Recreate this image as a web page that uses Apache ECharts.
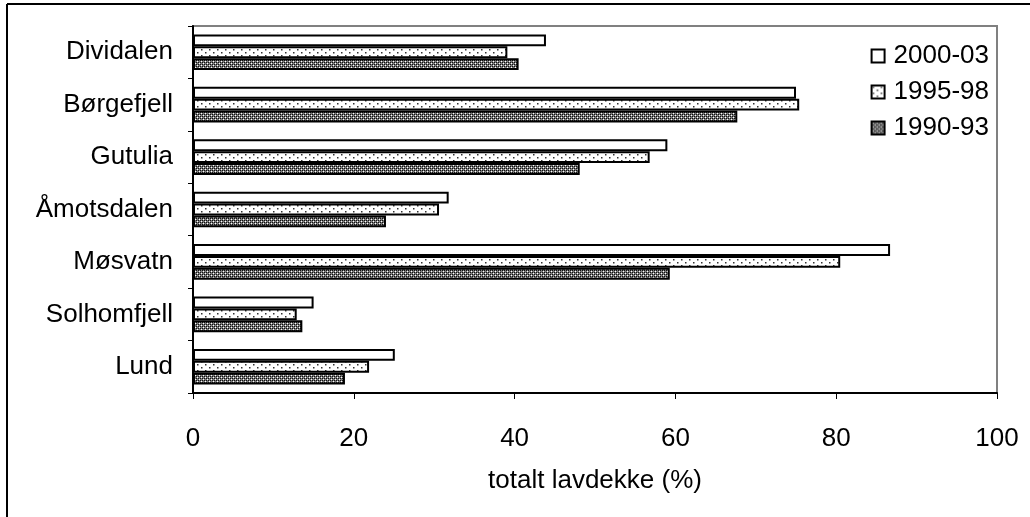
<!DOCTYPE html>
<html>
<head>
<meta charset="utf-8">
<script src="https://cdn.jsdelivr.net/npm/echarts@6/dist/echarts.min.js"></script>
<style>
  html, body { margin: 0; padding: 0; background: #fff; }
  #chart { width: 1030px; height: 517px; }
</style>
</head>
<body>
<div id="chart"></div>
<script>
const sites = ['Dividalen', 'Børgefjell', 'Gutulia', 'Åmotsdalen', 'Møsvatn', 'Solhomfjell', 'Lund'];
const periods = ['2000-03', '1995-98', '1990-93'];
const p2000 = [43.9, 75.0, 59.0, 31.8, 86.7, 15.0, 25.1];
const p1995 = [39.1, 75.4, 56.8, 30.6, 80.5, 12.9, 21.9];
const p1990 = [40.5, 67.7, 48.1, 24.0, 59.3, 13.6, 18.9];
const xTicks = [0, 20, 40, 60, 80, 100];

const font = 'Liberation Sans, Arial, sans-serif';

// sparse dots
function dotTile() {
  const c = document.createElement('canvas');
  c.width = 8; c.height = 6;
  const g = c.getContext('2d');
  g.fillStyle = '#fff';
  g.fillRect(0, 0, 8, 6);
  g.fillStyle = '#333';
  g.fillRect(1, 1, 1.5, 1.5);
  g.fillRect(5, 4, 1.5, 1.5);
  return c;
}

// dense grey texture, dark lattice with white spots
function denseTile() {
  const c = document.createElement('canvas');
  c.width = 4; c.height = 4;
  const g = c.getContext('2d');
  g.fillStyle = '#7a7a7a';
  g.fillRect(0, 0, 4, 4);
  g.fillStyle = '#111';
  g.fillRect(0, 0, 1, 1);
  g.fillRect(2, 2, 1, 1);
  g.fillRect(2, 0, 1, 1);
  g.fillRect(0, 2, 1, 1);
  g.fillStyle = '#fff';
  g.fillRect(1, 1, 1, 1);
  g.fillRect(3, 3, 1, 1);
  return c;
}

const fills = [
  '#ffffff',
  { image: dotTile(), repeat: 'repeat' },
  { image: denseTile(), repeat: 'repeat' },
];
const values = [p2000, p1995, p1990];

const chart = echarts.init(document.getElementById('chart'));
chart.setOption({
  animation: false,
  textStyle: { fontFamily: font, color: '#000' },
  graphic: [
    { type: 'line', shape: { x1: 7, y1: 4, x2: 1030, y2: 4 }, style: { stroke: '#000', lineWidth: 2 } },
    { type: 'line', shape: { x1: 7, y1: 4, x2: 7, y2: 517 }, style: { stroke: '#000', lineWidth: 2 } },
  ],
  legend: {
    data: periods,
    orient: 'vertical',
    right: 36,
    top: 38,
    itemWidth: 13,
    itemHeight: 13,
    itemGap: 10,
    icon: 'rect',
    textStyle: { fontFamily: font, fontSize: 26, color: '#000', padding: [0, 0, 0, 4] },
  },
  grid: {
    left: 193,
    top: 26,
    right: 33,
    bottom: 124,
    show: true,
    borderColor: '#808080',
    borderWidth: 2,
  },
  xAxis: {
    type: 'value',
    min: 0,
    max: 100,
    interval: 20,
    splitLine: { show: false },
    axisLine: { show: true, lineStyle: { color: '#000', width: 2 } },
    axisTick: { show: true, inside: false, length: 6, lineStyle: { color: '#000' } },
    axisLabel: {
      margin: 33,
      fontSize: 26,
      color: '#000',
      fontFamily: font,
      formatter: (v) => (xTicks.includes(v) ? String(v) : ''),
    },
    name: 'totalt lavdekke (%)',
    nameLocation: 'middle',
    nameGap: 75,
    nameTextStyle: { fontSize: 26, color: '#000', fontFamily: font },
  },
  yAxis: {
    type: 'category',
    data: sites,
    inverse: true,
    axisLine: { show: true, lineStyle: { color: '#000', width: 2 } },
    axisTick: { show: true, length: 5, lineStyle: { color: '#000' } },
    axisLabel: { margin: 20, fontSize: 26, color: '#000', fontFamily: font },
  },
  series: periods.map((name, i) => ({
    name,
    type: 'bar',
    data: values[i],
    barGap: '0%',
    barCategoryGap: '32%',
    itemStyle: { color: fills[i], borderColor: '#000', borderWidth: 2 },
  })),
});
</script>
</body>
</html>
